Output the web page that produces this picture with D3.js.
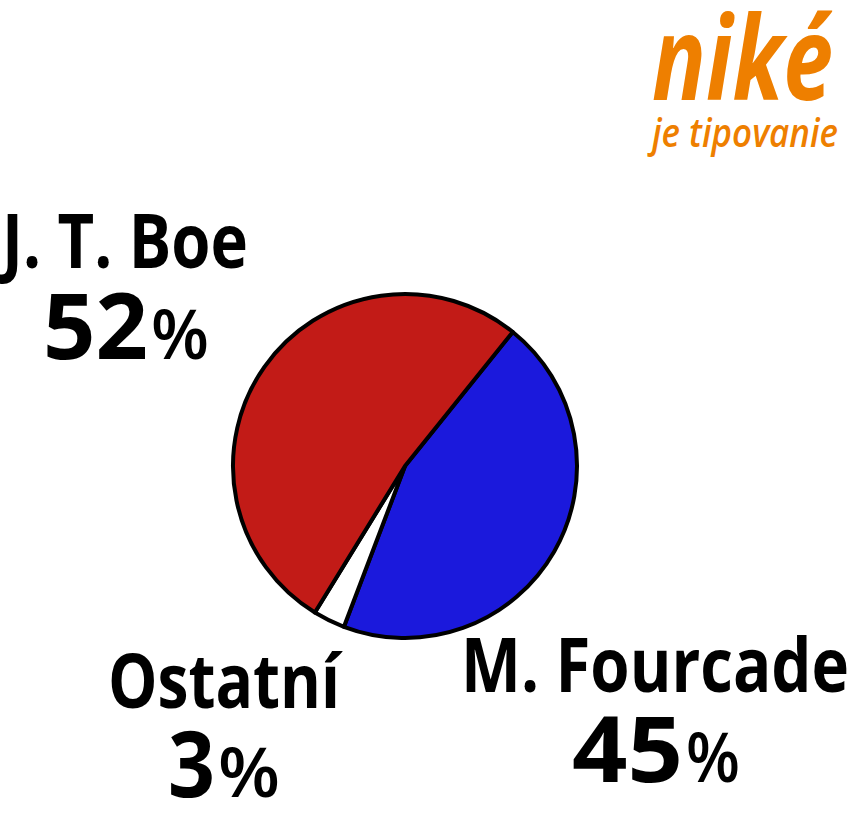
<!DOCTYPE html>
<html><head><meta charset="utf-8">
<script src="https://cdn.jsdelivr.net/npm/d3@7"></script>
<style>body{margin:0;background:#fff;}svg{display:block;}</style>
</head><body>
<script>
const names = ["J. T. Boe", "M. Fourcade", "Ostatní"];
const values = [52, 45, 3];
const colors = ["#c21b17", "#1b19dc", "#ffffff"];
const order = ["M. Fourcade", "Ostatní", "J. T. Boe"];

const W = 854, H = 825;
const svg = d3.select("body").append("svg").attr("width", W).attr("height", H);
const cx = 405, cy = 466, R = 172;

const data = order.map(n => ({name: n, value: values[names.indexOf(n)], color: colors[names.indexOf(n)]}));
const startA = 38.8 * Math.PI / 180;
const pie = d3.pie().value(d => d.value).sort(null).startAngle(startA).endAngle(startA + 2 * Math.PI);
const arc = d3.arc().innerRadius(0).outerRadius(R);
const g = svg.append("g").attr("transform", `translate(${cx},${cy})`);
g.selectAll("path").data(pie(data)).enter().append("path")
  .attr("d", arc).attr("fill", d => d.data.color)
  .attr("stroke", "#000").attr("stroke-width", 4).attr("stroke-linejoin", "round");

const font = "'Open Sans', 'Noto Sans', sans-serif";
function txt(s, x, y, size, weight, len, fill, style) {
  svg.append("text").attr("x", x).attr("y", y).text(s)
    .attr("font-family", font).attr("font-size", size).attr("font-weight", weight)
    .attr("font-style", style || "normal")
    .attr("fill", fill || "#000")
    .attr("textLength", len).attr("lengthAdjust", "spacingAndGlyphs");
}
// label layout: [name x, name y, name width, pct x, pct y, digits width, % width]
const layout = {
  "J. T. Boe": [2, 268, 246, 43, 359, 105, 58],
  "Ostatní": [108, 708, 232, 168, 797, 47, 62],
  "M. Fourcade": [461, 692, 388, 572, 782, 111, 54]
};
names.forEach((n, i) => {
  const L = layout[n];
  txt(n, L[0], L[1], 76, 700, L[2]);
  txt(String(values[i]), L[3], L[4], 92, 700, L[5]);
  txt("%", L[3] + L[5] + 3, L[4], 68, 600, L[6]);
});

// logo
txt("niké", 652, 100, 116, 700, 181, "#ee7f00", "italic");
txt("je tipovanie", 652, 147, 40, 600, 186, "#ee7f00", "italic");
</script>
</body></html>
